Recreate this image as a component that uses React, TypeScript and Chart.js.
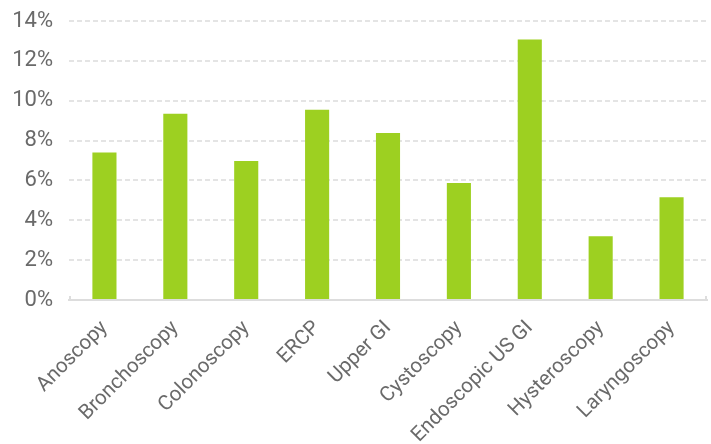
import React, { useEffect, useRef } from "react";
import { Chart, registerables } from "chart.js";

Chart.register(...registerables);

const categories = [
  "Anoscopy",
  "Bronchoscopy",
  "Colonoscopy",
  "ERCP",
  "Upper GI",
  "Cystoscopy",
  "Endoscopic US GI",
  "Hysteroscopy",
  "Laryngoscopy",
];
const values = [7.4, 9.35, 6.97, 9.55, 8.38, 5.87, 13.07, 3.2, 5.16];
const yMax = 14;
const yStep = 2;

const endHooks = {
  id: "endHooks",
  afterDraw(chart: any) {
    const { ctx, chartArea } = chart;
    ctx.save();
    ctx.strokeStyle = "#dddddd";
    ctx.lineWidth = 2;
    ctx.beginPath();
    ctx.moveTo(chartArea.left + 1, chartArea.bottom);
    ctx.lineTo(chartArea.left + 1, chartArea.bottom - 4);
    ctx.moveTo(chartArea.right - 1, chartArea.bottom);
    ctx.lineTo(chartArea.right - 1, chartArea.bottom - 4);
    ctx.stroke();
    ctx.restore();
  },
};

export default function App() {
  const ref = useRef<HTMLCanvasElement | null>(null);
  useEffect(() => {
    if (!ref.current) return;
    const yFont = { family: "Roboto, sans-serif", size: 22 };
    const xFont = { family: "Roboto, sans-serif", size: 20.5 };
    const chart = new Chart(ref.current, {
      type: "bar",
      data: {
        labels: categories,
        datasets: [
          {
            data: values,
            backgroundColor: "#9dd021",
            barPercentage: 0.34,
            categoryPercentage: 1,
          },
        ],
      },
      options: {
        animation: false,
        responsive: false,
        maintainAspectRatio: false,
        layout: { padding: { top: 21, right: 4, left: 0, bottom: 0 } },
        plugins: { legend: { display: false }, tooltip: { enabled: false } },
        scales: {
          x: {
            grid: { display: false },
            border: { display: true, color: "#dddddd", width: 2 },
            afterFit: (scale: any) => {
              scale.height = 144;
            },
            ticks: {
              color: "#6a6a6a",
              font: xFont,
              minRotation: 45,
              maxRotation: 45,
              padding: 8,
              autoSkip: false,
            },
          },
          y: {
            min: 0,
            max: yMax,
            afterFit: (scale: any) => {
              scale.width = 69;
              scale.paddingTop = 0;
            },
            grid: {
              color: (ctx: any) => (ctx.tick && ctx.tick.value === 0 ? "rgba(0,0,0,0)" : "#e4e4e4"),
              lineWidth: 2,
              drawTicks: false,
            },
            border: { display: false, dash: [5, 3] },
            ticks: {
              stepSize: yStep,
              color: "#6a6a6a",
              font: yFont,
              padding: 16,
              callback: (v: any) => v + "%",
            },
          },
        },
      },
      plugins: [endHooks],
    });
    return () => chart.destroy();
  }, []);
  return (
    <div style={{ position: "fixed", left: 0, top: 0, width: 711, height: 444, background: "#fff" }}>
      <canvas ref={ref} width={711} height={444} style={{ width: 711, height: 444 }} />
    </div>
  );
}
